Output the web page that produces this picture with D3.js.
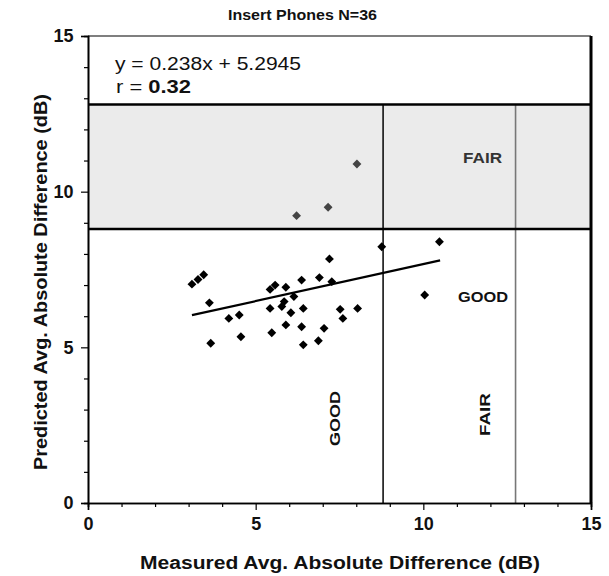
<!DOCTYPE html>
<html><head><meta charset="utf-8">
<script src="https://cdn.jsdelivr.net/npm/d3@7"></script>
<style>body{margin:0;background:#fff}svg{display:block}text{font-family:"Liberation Sans",Arial,sans-serif}</style>
</head><body><svg id="c" width="609" height="576"></svg>
<script>
const title = "Insert Phones  N=36";
const xLabel = "Measured Avg. Absolute Difference (dB)";
const yLabel = "Predicted Avg. Absolute Difference (dB)";
const majorTicks = [0, 5, 10, 15];
const minorTicks = [1,2,3,4,6,7,8,9,11,12,13,14];
// measured (x) and predicted (y) values
const xs = [3.10,3.28,3.45,3.62,4.20,4.51,3.66,4.56,5.43,5.48,5.43,5.58,5.90,5.85,5.78,6.05,5.90,
            8.76,10.48,7.20,6.37,6.90,7.27,6.14,6.42,7.52,7.60,8.04,6.37,7.04,6.42,6.87,10.04,
            6.22,7.16,8.02];
const ys = [7.03,7.18,7.33,6.43,5.93,6.04,5.13,5.34,6.25,5.47,6.86,7.00,6.93,6.47,6.31,6.11,5.72,
            8.23,8.39,7.84,7.16,7.24,7.11,6.63,6.25,6.22,5.93,6.25,5.66,5.61,5.08,5.21,6.68,
            9.23,9.50,10.89];
const slope = 0.238, intercept = 5.2945;
const fitRange = [3.1, 10.5];
const bandLow = 8.8, bandHigh = 12.8;
const vLines = [8.8, 12.75];

const svg = d3.select("#c");
const L = 88, R = 591, T = 36, B = 503;
const x = d3.scaleLinear().domain([0, 15]).range([L, R]);
const y = d3.scaleLinear().domain([0, 15]).range([B, T]);

function txt(opts, s) {
  const t = svg.append("text").attr("fill", "#111").attr("font-weight", "bold");
  Object.entries(opts).forEach(([k, v]) => t.attr(k, v));
  return t.text(s);
}

// gray band
svg.append("rect").attr("x", x(0)).attr("y", y(bandHigh)).attr("width", x(15) - x(0))
  .attr("height", y(bandLow) - y(bandHigh)).attr("fill", "#ebebeb");
// top border
svg.append("line").attr("x1", x(0)).attr("x2", x(15)).attr("y1", y(15)).attr("y2", y(15))
  .attr("stroke", "#000").attr("stroke-width", 1.2);
// vertical lines
svg.append("line").attr("x1", x(vLines[0])).attr("x2", x(vLines[0])).attr("y1", y(bandHigh)).attr("y2", y(0))
  .attr("stroke", "#111").attr("stroke-width", 1.6);
svg.append("line").attr("x1", x(vLines[1])).attr("x2", x(vLines[1])).attr("y1", y(bandHigh)).attr("y2", y(0))
  .attr("stroke", "#777").attr("stroke-width", 1.6);
// band borders
[bandLow, bandHigh].forEach(v => svg.append("line").attr("x1", x(0)).attr("x2", x(15))
  .attr("y1", y(v)).attr("y2", y(v)).attr("stroke", "#000").attr("stroke-width", 2.6));
// right border
svg.append("line").attr("x1", x(15)).attr("x2", x(15)).attr("y1", y(15)).attr("y2", y(0))
  .attr("stroke", "#000").attr("stroke-width", 3);

// axes
const xAxis = svg.append("g").attr("transform", `translate(0,${B})`);
xAxis.call(d3.axisBottom(x).tickValues(majorTicks).tickSize(7).tickFormat(d3.format("d")));
xAxis.append("g").call(d3.axisBottom(x).tickValues(minorTicks).tickSize(4).tickFormat(""));
const yAxis = svg.append("g").attr("transform", `translate(${L},0)`);
yAxis.call(d3.axisLeft(y).tickValues(majorTicks).tickSize(7).tickFormat(d3.format("d")));
yAxis.append("g").call(d3.axisLeft(y).tickValues(minorTicks).tickSize(4).tickFormat(""));
svg.selectAll(".domain").attr("stroke", "#000").attr("stroke-width", 1.6);
svg.selectAll(".tick line").attr("stroke", "#000").attr("stroke-width", 1.2);
svg.selectAll(".tick text").attr("font-size", 18).attr("font-weight", "bold").attr("fill", "#111")
  .attr("font-family", "Liberation Sans, Arial, sans-serif");
xAxis.selectAll(".tick text").attr("dy", "0.95em");
yAxis.selectAll(".tick text").attr("dx", "-0.25em");

// trend line
svg.append("line").attr("x1", x(fitRange[0])).attr("y1", y(slope * fitRange[0] + intercept))
  .attr("x2", x(fitRange[1])).attr("y2", y(slope * fitRange[1] + intercept))
  .attr("stroke", "#000").attr("stroke-width", 2.2);

// points
const sym = d3.symbol().type(d3.symbolDiamond2).size(50);
svg.append("g").selectAll("path").data(d3.range(xs.length)).join("path")
  .attr("transform", i => `translate(${x(xs[i])},${y(ys[i])})`)
  .attr("d", sym)
  .attr("fill", i => ys[i] > bandLow ? "#444" : "#000");

// texts
txt({x: 228, y: 20, "font-size": 15.5, textLength: 149, lengthAdjust: "spacingAndGlyphs"}, title);
txt({x: 140, y: 569, "font-size": 18, textLength: 400, lengthAdjust: "spacingAndGlyphs"}, xLabel);
txt({transform: "translate(47,470) rotate(-90)", "font-size": 18, textLength: 376, lengthAdjust: "spacingAndGlyphs"}, yLabel);

txt({x: 115, y: 70, "font-size": 18, "font-weight": "normal", textLength: 186, lengthAdjust: "spacingAndGlyphs"},
  `y = ${slope}x + ${intercept}`);
const rt = svg.append("text").attr("x", 116).attr("y", 93).attr("font-size", 18).attr("fill", "#111")
  .attr("textLength", 75).attr("lengthAdjust", "spacingAndGlyphs");
rt.append("tspan").text("r = ");
rt.append("tspan").attr("font-weight", "bold").text("0.32");

txt({x: 463, y: 163, "font-size": 14, fill: "#333", textLength: 39, lengthAdjust: "spacingAndGlyphs"}, "FAIR");
txt({x: 458, y: 302, "font-size": 15, textLength: 50, lengthAdjust: "spacingAndGlyphs"}, "GOOD");
txt({transform: "translate(340,446) rotate(-90)", "font-size": 15, textLength: 55, lengthAdjust: "spacingAndGlyphs"}, "GOOD");
txt({transform: "translate(490,436) rotate(-90)", "font-size": 15, textLength: 43, lengthAdjust: "spacingAndGlyphs"}, "FAIR");
</script></body></html>
